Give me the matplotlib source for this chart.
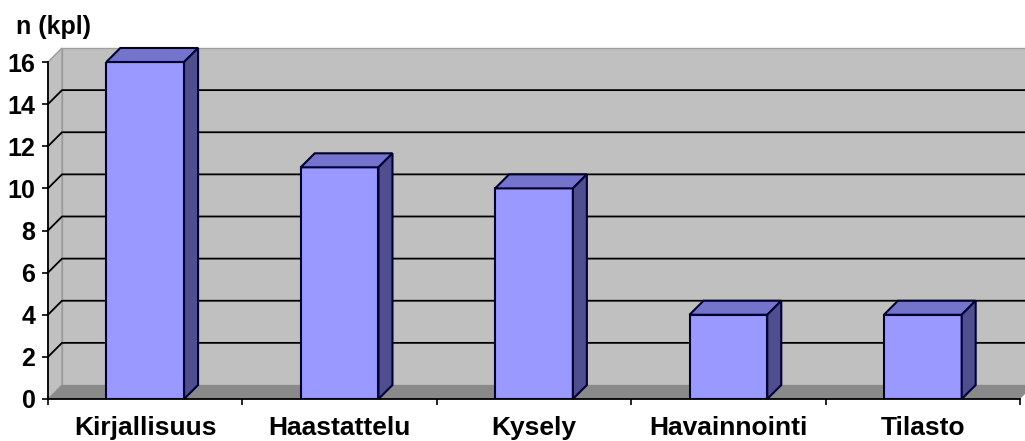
import matplotlib
matplotlib.use("Agg")
import matplotlib.pyplot as plt
from matplotlib.patches import Polygon
import numpy as np

categories = ["Kirjallisuus", "Haastattelu", "Kysely", "Havainnointi", "Tilasto"]
counts = [16, 11, 10, 4, 4]
yticks = [0, 2, 4, 6, 8, 10, 12, 14, 16]

FRONT = "#9999ff"
TOP = "#7474cc"
SIDE = "#4f4f8f"
EDGE = "#000033"
WALL = "#c0c0c0"
FLOOR = "#8a8a8a"

plt.rcParams["font.family"] = ["Liberation Sans", "DejaVu Sans"]
plt.rcParams["font.weight"] = "bold"

fig = plt.figure(figsize=(10.25, 4.41), dpi=100)
ax = fig.add_axes([48 / 1025, 42 / 441, 972 / 1025, 337 / 441])

n = len(categories)
x = np.arange(n)
xmin, xmax = -0.5, n - 0.5
ymax = 16
dx, dy = 0.072, 0.665   # depth offset of the 3-D box, in data units
w = 0.40

ax.set_xlim(xmin, xmax)
ax.set_ylim(0, ymax)

# walls and floor
ax.add_patch(Polygon([(xmin + dx, dy), (xmax + dx, dy), (xmax + dx, ymax + dy),
                      (xmin + dx, ymax + dy)], closed=True, fc=WALL, ec="#a0a0a0",
                     lw=1, clip_on=False, zorder=1))
ax.add_patch(Polygon([(xmin, 0), (xmin + dx, dy), (xmin + dx, ymax + dy), (xmin, ymax)],
                     closed=True, fc=WALL, ec="#9a9a9a", lw=1, clip_on=False, zorder=1))
ax.add_patch(Polygon([(xmin, 0), (xmax, 0), (xmax + dx, dy), (xmin + dx, dy)],
                     closed=True, fc=FLOOR, ec="none", clip_on=False, zorder=1.5))

# gridlines on back wall plus their diagonals on the side wall
for v in yticks[1:-1]:
    ax.plot([xmin, xmin + dx, xmax + dx], [v, v + dy, v + dy], color="black",
            lw=1.3, clip_on=False, zorder=2)

# columns: front face through ax.bar, then top and side faces
ax.bar(x, counts, width=w, color=FRONT, edgecolor=EDGE, linewidth=1.5, zorder=3)
for xi, v in zip(x, counts):
    x0, x1 = xi - w / 2, xi + w / 2
    ax.add_patch(Polygon([(x0, v), (x1, v), (x1 + dx, v + dy), (x0 + dx, v + dy)],
                         closed=True, fc=TOP, ec=EDGE, lw=1.5, clip_on=False, zorder=3))
    ax.add_patch(Polygon([(x1, 0), (x1 + dx, dy), (x1 + dx, v + dy), (x1, v)],
                         closed=True, fc=SIDE, ec=EDGE, lw=1.5, clip_on=False, zorder=3))

for side in ["top", "right"]:
    ax.spines[side].set_visible(False)
for side in ["left", "bottom"]:
    ax.spines[side].set_color("black")
    ax.spines[side].set_linewidth(1.3)
    ax.spines[side].set_zorder(4)

ax.set_yticks(yticks)
ax.tick_params(axis="y", length=4, width=1.2, pad=5, labelsize=18)
ax.set_xticks(x)
ax.set_xticklabels(categories)
ax.tick_params(axis="x", which="major", length=0, pad=12, labelsize=19)
ax.set_xticks(np.arange(xmin, xmax + 0.01, 1.0), minor=True)
ax.tick_params(axis="x", which="minor", length=4, width=1.2)

fig.text(16 / 1025, 1 - 27 / 441, "n (kpl)", fontsize=18, fontweight="bold",
         ha="left", va="center")

fig.savefig("out.png", dpi=100)
